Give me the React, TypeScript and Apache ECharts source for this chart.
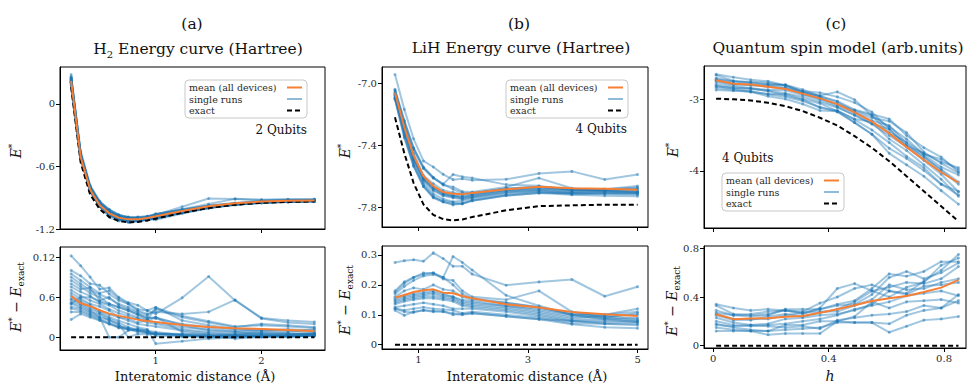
import React, { useEffect, useRef } from "react";
import * as echarts from "echarts";

// ---------------- Panel (a): H2 energy curve ----------------
const h2Distance = [0.2, 0.29, 0.38, 0.47, 0.56, 0.65, 0.74, 0.83, 0.92, 1.0, 1.25, 1.5, 1.75, 2.0, 2.25, 2.5];
const h2Exact = [0.16, -0.56, -0.87, -1.01, -1.085, -1.123, -1.137, -1.132, -1.118, -1.101, -1.045, -0.998, -0.967, -0.949, -0.94, -0.936];
const h2MeanError = [0.0615, 0.051, 0.0465, 0.0405, 0.0354, 0.032, 0.0294, 0.0264, 0.0245, 0.023, 0.0185, 0.0155, 0.0135, 0.0125, 0.011, 0.0095];
const h2RunErrors = [
  [0.122, 0.107, 0.09, 0.072, 0.074, 0.06, 0.052, 0.048, 0.04, 0.045, 0.025, 0.018, 0.012, 0.01, 0.008, 0.012],
  [0.1, 0.092, 0.08, 0.078, 0.065, 0.055, 0.05, 0.042, 0.04, 0.035, 0.059, 0.091, 0.055, 0.029, 0.025, 0.023],
  [0.095, 0.085, 0.075, 0.066, 0.07, 0.058, 0.05, 0.04, 0.035, 0.038, 0.035, 0.038, 0.056, 0.028, 0.022, 0.02],
  [0.09, 0.08, 0.07, 0.064, 0.058, 0.05, 0.045, 0.038, 0.033, 0.042, 0.03, 0.022, 0.015, 0.02, 0.018, 0.015],
  [0.085, 0.076, 0.066, 0.06, 0.05, 0.045, 0.04, 0.034, 0.03, 0.028, 0.02, 0.015, 0.01, 0.012, 0.01, 0.008],
  [0.08, 0.072, 0.074, 0.055, 0.06, 0.048, 0.042, 0.036, 0.028, 0.03, 0.018, 0.01, 0.008, 0.006, 0.005, 0.005],
  [0.0755, 0.068, 0.062, 0.052, 0.048, 0.04, 0.035, 0.03, 0.025, 0.022, 0.015, 0.012, 0.008, 0.01, 0.012, 0.01],
  [0.0705, 0.062, 0.055, 0.05, 0.042, 0.036, 0.032, 0.028, 0.022, 0.02, 0.012, 0.008, 0.005, 0.008, 0.006, 0.005],
  [0.066, 0.058, 0.05, 0.046, 0.04, 0.03, 0.025, 0.02, 0.018, 0.016, 0.01, 0.006, 0.004, 0.005, 0.003, 0.004],
  [0.062, 0.055, 0.048, 0.04, 0.034, 0.03, 0.028, 0.022, 0.025, 0.03, 0.008, 0.004, 0.003, 0.002, 0.004, 0.006],
  [0.058, 0.052, 0.045, 0.038, 0.03, 0.025, 0.02, 0.015, 0.012, -0.0095, -0.006, -0.002, 0.0, 0.002, 0.0, 0.003],
  [0.0555, 0.05, 0.042, 0.036, 0.028, 0.022, 0.015, 0.01, 0.008, 0.006, 0.005, 0.004, 0.002, 0.003, 0.002, 0.004],
  [0.052, 0.048, 0.04, 0.03, 0.0, 0.0, 0.01, 0.012, 0.01, 0.008, 0.003, 0.002, 0.004, 0.006, 0.005, 0.006],
  [0.05, 0.045, 0.038, 0.034, 0.025, 0.02, 0.0, 0.005, 0.004, 0.006, 0.002, 0.0, 0.002, 0.003, 0.002, 0.004],
  [0.0455, 0.043, 0.036, 0.03, 0.026, 0.018, 0.012, 0.01, 0.007, 0.005, 0.004, 0.003, -0.002, 0.001, 0.001, 0.003],
  [0.043, 0.04, 0.034, 0.028, 0.022, 0.015, 0.012, 0.008, 0.006, 0.004, 0.004, 0.0, 0.003, 0.002, 0.001, 0.002],
  [0.038, 0.038, 0.032, 0.026, 0.02, 0.016, 0.014, 0.012, 0.01, 0.002, 0.001, 0.002, 0.001, 0.0, 0.002, 0.003],
  [0.0265, 0.035, 0.03, 0.025, 0.02, 0.014, 0.012, 0.01, 0.008, 0.005, 0.003, 0.002, 0.001, 0.003, 0.002, 0.002],
  [0.05, 0.06, 0.06, 0.054, 0.05, 0.045, 0.04, 0.034, 0.026, 0.044, 0.032, 0.024, 0.016, 0.018, 0.016, 0.014],
];

// ---------------- Panel (b): LiH energy curve ----------------
const lihDistance = [0.57, 0.74, 0.91, 1.09, 1.27, 1.45, 1.63, 1.8, 1.98, 2.6, 3.2, 3.8, 4.4, 5.0];
const lihExact = [-7.22, -7.45, -7.642, -7.779, -7.846, -7.874, -7.882, -7.876, -7.86, -7.817, -7.79, -7.785, -7.781, -7.781];
const lihMeanError = [0.157, 0.166, 0.176, 0.182, 0.185, 0.174, 0.172, 0.163, 0.155, 0.135, 0.124, 0.109, 0.102, 0.096];
const lihRunErrors = [
  [0.275, 0.281, 0.284, 0.279, 0.307, 0.288, 0.262, 0.262, 0.236, 0.199, 0.21, 0.218, 0.162, 0.194],
  [0.18, 0.21, 0.225, 0.235, 0.24, 0.225, 0.295, 0.275, 0.25, 0.165, 0.13, 0.1, 0.085, 0.075],
  [0.175, 0.205, 0.225, 0.24, 0.24, 0.22, 0.215, 0.18, 0.16, 0.15, 0.18, 0.11, 0.09, 0.08],
  [0.17, 0.195, 0.215, 0.23, 0.235, 0.225, 0.2, 0.17, 0.155, 0.14, 0.125, 0.1, 0.095, 0.085],
  [0.16, 0.18, 0.19, 0.185, 0.2, 0.185, 0.18, 0.16, 0.15, 0.14, 0.125, 0.105, 0.1, 0.11],
  [0.155, 0.165, 0.17, 0.175, 0.18, 0.17, 0.16, 0.15, 0.145, 0.13, 0.12, 0.1, 0.1, 0.12],
  [0.15, 0.16, 0.165, 0.17, 0.175, 0.165, 0.16, 0.145, 0.14, 0.13, 0.115, 0.095, 0.09, 0.105],
  [0.145, 0.155, 0.16, 0.165, 0.17, 0.16, 0.155, 0.14, 0.135, 0.125, 0.11, 0.09, 0.095, 0.1],
  [0.14, 0.15, 0.155, 0.16, 0.162, 0.155, 0.15, 0.135, 0.13, 0.12, 0.105, 0.085, 0.085, 0.09],
  [0.135, 0.145, 0.15, 0.155, 0.155, 0.15, 0.145, 0.13, 0.125, 0.115, 0.1, 0.08, 0.08, 0.08],
  [0.125, 0.13, 0.135, 0.14, 0.135, 0.13, 0.12, 0.12, 0.12, 0.11, 0.095, 0.078, 0.075, 0.075],
  [0.12, 0.115, 0.12, 0.125, 0.12, 0.118, 0.115, 0.105, 0.11, 0.1, 0.09, 0.072, 0.07, 0.07],
  [0.115, 0.098, 0.11, 0.115, 0.113, 0.11, 0.105, 0.1, 0.105, 0.095, 0.085, 0.068, 0.058, 0.055],
  [0.122, 0.11, 0.108, 0.115, 0.11, 0.112, 0.1, 0.103, 0.105, 0.095, 0.085, 0.08, 0.07, 0.065],
];

// ---------------- Panel (c): quantum spin model ----------------
const spinField = [0.01, 0.07, 0.13, 0.19, 0.25, 0.31, 0.37, 0.43, 0.49, 0.55, 0.61, 0.67, 0.73, 0.79, 0.85];
const spinExact = [-2.99, -3.0, -3.015, -3.047, -3.094, -3.164, -3.257, -3.365, -3.515, -3.678, -3.865, -4.076, -4.286, -4.497, -4.707];
const spinMeanError = [0.258, 0.218, 0.223, 0.225, 0.238, 0.244, 0.271, 0.299, 0.332, 0.367, 0.389, 0.408, 0.441, 0.477, 0.54];
const spinRunErrors = [
  [0.34, 0.31, 0.29, 0.3, 0.29, 0.27, 0.3, 0.34, 0.37, 0.47, 0.59, 0.57, 0.61, 0.69, 0.69],
  [0.33, 0.26, 0.25, 0.26, 0.29, 0.28, 0.35, 0.4, 0.47, 0.5, 0.45, 0.43, 0.53, 0.62, 0.75],
  [0.29, 0.25, 0.26, 0.28, 0.29, 0.26, 0.31, 0.47, 0.51, 0.45, 0.4, 0.48, 0.52, 0.66, 0.72],
  [0.27, 0.25, 0.24, 0.25, 0.3, 0.3, 0.3, 0.33, 0.34, 0.42, 0.56, 0.61, 0.55, 0.6, 0.68],
  [0.26, 0.22, 0.21, 0.24, 0.26, 0.24, 0.27, 0.3, 0.36, 0.45, 0.48, 0.52, 0.51, 0.55, 0.65],
  [0.25, 0.21, 0.22, 0.22, 0.25, 0.27, 0.28, 0.28, 0.33, 0.38, 0.5, 0.46, 0.47, 0.52, 0.55],
  [0.23, 0.19, 0.17, 0.18, 0.22, 0.23, 0.25, 0.26, 0.29, 0.34, 0.45, 0.42, 0.49, 0.5, 0.52],
  [0.2, 0.17, 0.16, 0.17, 0.18, 0.2, 0.22, 0.25, 0.3, 0.33, 0.36, 0.41, 0.43, 0.45, 0.41],
  [0.18, 0.15, 0.13, 0.12, 0.17, 0.17, 0.2, 0.2, 0.24, 0.36, 0.31, 0.36, 0.37, 0.38, 0.35],
  [0.15, 0.13, 0.12, 0.09, 0.1, 0.1, 0.1, 0.2, 0.19, 0.19, 0.18, 0.25, 0.29, 0.31, 0.42],
  [0.12, 0.12, 0.12, 0.12, 0.13, 0.14, 0.15, 0.19, 0.19, 0.19, 0.11, 0.16, 0.21, 0.22, 0.24],
  [0.17, 0.16, 0.17, 0.16, 0.15, 0.16, 0.14, 0.21, 0.23, 0.25, 0.26, 0.28, 0.33, 0.31, 0.37],
];

// ---------------- Tick values and labels ----------------
const h2XTicks = [1, 2];
const h2XTickLabels = ["1", "2"];
const h2YTicks = [-1.2, -0.6, 0];
const h2YTickLabels = ["-1.2", "-0.6", "0"];
const h2ErrTicks = [0, 0.06, 0.12];
const h2ErrTickLabels = ["0", "0.6", "0.12"];
const lihXTicks = [1, 3, 5];
const lihXTickLabels = ["1", "3", "5"];
const lihYTicks = [-7.8, -7.4, -7.0];
const lihYTickLabels = ["-7.8", "-7.4", "-7.0"];
const lihErrTicks = [0, 0.1, 0.2, 0.3];
const lihErrTickLabels = ["0", "0.1", "0.2", "0.3"];
const spinXTicks = [0, 0.4, 0.8];
const spinXTickLabels = ["0", "0.4", "0.8"];
const spinYTicks = [-4, -3];
const spinYTickLabels = ["-4", "-3"];
const spinErrTicks = [0, 0.4, 0.8];
const spinErrTickLabels = ["0", "0.4", "0.8"];

const SERIF = "DejaVu Serif";
const BLUE = "#1f77b4";
const ORANGE = "#f77f35";
const TXT = "#111";

const pts = (xs: number[], ys: number[]) => xs.map((x, i) => [x, ys[i]]);
const plus = (a: number[], b: number[]) => a.map((v, i) => v + b[i]);

const fmt = (ticks: number[], labels: string[]) => (v: number) => {
  const i = ticks.findIndex((t) => Math.abs(t - v) < 1e-6);
  return i >= 0 ? labels[i] : "";
};

function valueAxis(gridIndex: number, min: number, max: number, ticks: number[], labels: string[], showLabels: boolean) {
  return {
    type: "value",
    gridIndex,
    min,
    max,
    axisLine: { show: true, onZero: false, lineStyle: { color: "#000", width: 1 } },
    axisTick: { show: true, customValues: ticks, length: 4, inside: false, lineStyle: { color: "#000", width: 1 } },
    axisLabel: {
      show: showLabels,
      customValues: ticks,
      formatter: fmt(ticks, labels),
      fontFamily: SERIF,
      fontSize: 10,
      color: "#2a2a2a",
      margin: 5,
    },
    splitLine: { show: false },
  };
}

function runLine(idx: number, data: number[][]) {
  return {
    type: "line",
    name: "single runs",
    xAxisIndex: idx,
    yAxisIndex: idx,
    data,
    symbol: "circle",
    symbolSize: 3,
    showSymbol: true,
    lineStyle: { color: BLUE, width: 2, opacity: 0.42 },
    itemStyle: { color: BLUE, opacity: 0.5 },
    silent: true,
    z: 2,
  };
}
function exactLine(idx: number, data: number[][]) {
  return {
    type: "line",
    name: "exact",
    xAxisIndex: idx,
    yAxisIndex: idx,
    data,
    symbol: "none",
    lineStyle: { color: "#000", width: 2, type: [5, 3] },
    silent: true,
    z: 3,
  };
}
function meanLine(idx: number, data: number[][]) {
  return {
    type: "line",
    name: "mean (all devices)",
    xAxisIndex: idx,
    yAxisIndex: idx,
    data,
    symbol: "none",
    lineStyle: { color: ORANGE, width: 2 },
    silent: true,
    z: 4,
  };
}

function legendBox(x: number, y: number) {
  const w = 122;
  const h = 38;
  const els: any[] = [
    {
      type: "rect",
      shape: { x, y, width: w, height: h, r: 4 },
      style: { fill: "rgba(255,255,255,0.85)", stroke: "#c8c8c8", lineWidth: 1 },
    },
  ];
  const rows = ["mean (all devices)", "single runs", "exact"];
  rows.forEach((t, i) => {
    const cy = y + 7.5 + i * 11.5;
    els.push({
      type: "text",
      x: x + 4,
      y: cy,
      style: { text: t, fontFamily: SERIF, fontSize: 9.5, fill: "#2a2a2a", align: "left", verticalAlign: "middle" },
    });
    els.push({
      type: "line",
      shape: { x1: x + w - 20, y1: cy, x2: x + w - 5, y2: cy },
      style: {
        stroke: i === 0 ? ORANGE : i === 1 ? BLUE : "#000",
        lineWidth: 2,
        lineDash: i === 2 ? [5, 3] : null,
        opacity: i === 1 ? 0.5 : 1,
      },
    });
  });
  return els;
}

const yNameRich = {
  e: { fontStyle: "italic", fontFamily: SERIF, fontSize: 14, lineHeight: 18, fill: TXT },
  n: { fontFamily: SERIF, fontSize: 14, lineHeight: 18, fill: TXT },
  sup: { fontFamily: SERIF, fontSize: 9, lineHeight: 10, verticalAlign: "top", fill: TXT },
  sub: { fontFamily: SERIF, fontSize: 9, lineHeight: 10, verticalAlign: "bottom", fill: TXT },
};

function yName(x: number, y: number, text: string) {
  return {
    type: "text",
    x,
    y,
    rotation: Math.PI / 2,
    style: { text, rich: yNameRich, align: "center", verticalAlign: "middle" },
  };
}
function plainText(x: number, y: number, text: string, size: number, align = "center", italic = false) {
  return {
    type: "text",
    x,
    y,
    style: {
      text,
      fontFamily: SERIF,
      fontSize: size,
      fontStyle: italic ? "italic" : "normal",
      fill: TXT,
      align,
      verticalAlign: "middle",
    },
  };
}

export default function App() {
  const ref = useRef<HTMLDivElement>(null);

  useEffect(() => {
    if (!ref.current) return;
    const chart = echarts.init(ref.current, null, { renderer: "svg" });

    const gridBase = { show: true, borderColor: "#000", borderWidth: 1, backgroundColor: "transparent", containLabel: false, outerBoundsMode: "none" };
    const grid = [
      { left: 60, top: 67, width: 265, height: 162 },
      { left: 60, top: 247, width: 265, height: 103 },
      { left: 382, top: 67, width: 266, height: 160 },
      { left: 382, top: 246, width: 266, height: 103 },
      { left: 704, top: 66, width: 262, height: 162 },
      { left: 704, top: 246, width: 262, height: 102 },
    ].map((g) => ({ ...gridBase, ...g }));

    const xAxis = [
      valueAxis(0, 0.095, 2.6, h2XTicks, h2XTickLabels, false),
      valueAxis(1, 0.095, 2.6, h2XTicks, h2XTickLabels, true),
      valueAxis(2, 0.333, 5.19, lihXTicks, lihXTickLabels, false),
      valueAxis(3, 0.333, 5.19, lihXTicks, lihXTickLabels, true),
      valueAxis(4, -0.032, 0.876, spinXTicks, spinXTickLabels, false),
      valueAxis(5, -0.032, 0.876, spinXTicks, spinXTickLabels, true),
    ];
    const yAxis = [
      valueAxis(0, -1.2, 0.354, h2YTicks, h2YTickLabels, true),
      valueAxis(1, -0.019, 0.135, h2ErrTicks, h2ErrTickLabels, true),
      valueAxis(2, -7.924, -6.897, lihYTicks, lihYTickLabels, true),
      valueAxis(3, -0.0144, 0.33, lihErrTicks, lihErrTickLabels, true),
      valueAxis(4, -4.8, -2.533, spinYTicks, spinYTickLabels, true),
      valueAxis(5, -0.019, 0.819, spinErrTicks, spinErrTickLabels, true),
    ];

    const panels = [
      { xs: h2Distance, exact: h2Exact, meanErr: h2MeanError, runs: h2RunErrors },
      { xs: lihDistance, exact: lihExact, meanErr: lihMeanError, runs: lihRunErrors },
      { xs: spinField, exact: spinExact, meanErr: spinMeanError, runs: spinRunErrors },
    ];

    const series: any[] = [];
    panels.forEach((p, pi) => {
      const top = pi * 2;
      const bot = pi * 2 + 1;
      p.runs.forEach((err) => {
        series.push(runLine(top, pts(p.xs, plus(p.exact, err))));
        series.push(runLine(bot, pts(p.xs, err)));
      });
      series.push(exactLine(top, pts(p.xs, p.exact)));
      series.push(exactLine(bot, pts(p.xs, p.xs.map(() => 0))));
      series.push(meanLine(top, pts(p.xs, plus(p.exact, p.meanErr))));
      series.push(meanLine(bot, pts(p.xs, p.meanErr)));
    });

    const titleRich = {
      m: { fontFamily: SERIF, fontSize: 15.5, lineHeight: 20, fill: TXT },
      s: { fontFamily: SERIF, fontSize: 10, lineHeight: 11, verticalAlign: "bottom", fill: TXT },
    };
    const richTitle = (x: number, y: number, text: string) => ({
      type: "text",
      x,
      y,
      style: { text, rich: titleRich, align: "center", verticalAlign: "middle" },
    });

    const graphic: any[] = [
      plainText(192, 24, "(a)", 15.5),
      richTitle(198, 49, "{m|H}{s|2}{m| Energy curve (Hartree)}"),
      plainText(519, 24, "(b)", 15.5),
      richTitle(521, 48, "{m|LiH Energy curve (Hartree)}"),
      plainText(836, 24, "(c)", 15.5),
      richTitle(838, 48, "{m|Quantum spin model (arb.units)}"),
      plainText(307, 130, "2 Qubits", 12, "right"),
      plainText(627, 129, "4 Qubits", 12, "right"),
      plainText(722, 158, "4 Qubits", 12, "left"),
      ...legendBox(185, 80),
      ...legendBox(506, 80),
      ...legendBox(722, 173),
      yName(16, 151, "{e|E}{sup|*}"),
      yName(345, 151, "{e|E}{sup|*}"),
      yName(673, 150, "{e|E}{sup|*}"),
      yName(16, 297, "{e|E}{sup|*}{n| − }{e|E}{sub|exact}"),
      yName(345, 300, "{e|E}{sup|*}{n| − }{e|E}{sub|exact}"),
      yName(672, 301, "{e|E}{sup|*}{n| − }{e|E}{sub|exact}"),
      plainText(195, 376, "Interatomic distance (Å)", 13),
      plainText(527, 376, "Interatomic distance (Å)", 13),
      plainText(830, 376, "h", 14, "center", true),
    ].map((g) => ({ ...g, z: 100 }));

    chart.setOption({
      animation: false,
      backgroundColor: "#fff",
      grid,
      xAxis,
      yAxis,
      series,
      graphic,
    });

    return () => chart.dispose();
  }, []);

  return <div ref={ref} style={{ position: "absolute", left: 0, top: 0, width: 968, height: 384 }} />;
}
